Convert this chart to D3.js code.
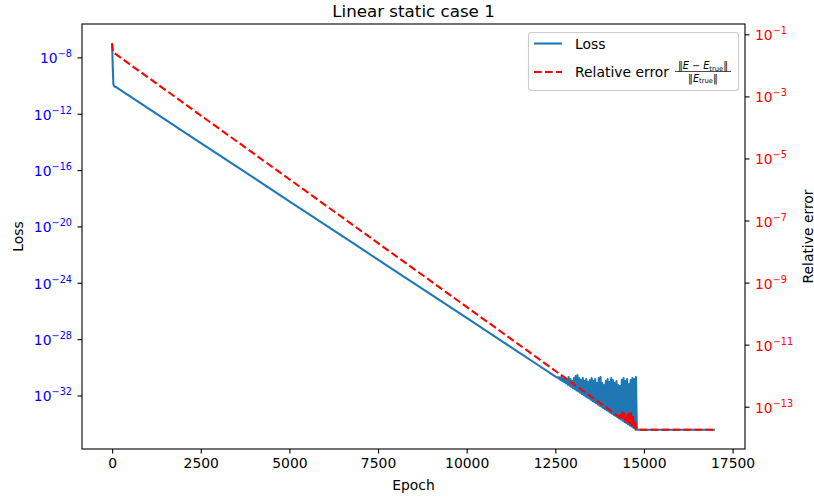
<!DOCTYPE html>
<html><head><meta charset="utf-8">
<script src="https://cdn.jsdelivr.net/npm/d3@7"></script>
<style>body{margin:0;background:#fff} svg{display:block} text{font-family:"DejaVu Sans",sans-serif}</style>
</head><body><svg id="c" width="814" height="498"></svg>
<script>
// ---- data (log10 values) ----
const lossEpochs = [0, 15, 35, 60, 100, 1000, 2000, 3000, 4000, 5000, 6000, 7000, 8000, 9000, 10000, 11000, 12000];
const lossLog10  = [-7.0, -8.5, -9.9, -10.05, -10.1, -11.59, -13.25, -14.91, -16.56, -18.22, -19.88, -21.53, -23.19, -24.85, -26.50, -28.16, -29.82];
// oscillating part: troughs at 12550 + 50k, peaks half way between
const noiseStartEpoch = 12550, noiseHalfStep = 25;
const noiseTroughLog10 = [-30.73,-30.81,-30.90,-30.98,-31.06,-31.14,-31.23,-31.31,-31.39,-31.48,-31.56,-31.64,-31.72,-31.81,-31.89,-31.97,-32.06,-32.14,-32.22,-32.30,-32.39,-32.47,-32.55,-32.64,-32.72,-32.80,-32.88,-32.97,-33.05,-33.13,-33.22,-33.30,-33.38,-33.46,-33.55,-33.63,-33.71,-33.80,-33.88,-33.96,-34.04,-34.13,-34.21,-34.29,-34.37,-34.43];
const noisePeakLog10 = [-30.70,-30.72,-30.68,-30.83,-30.76,-30.90,-30.69,-30.83,-30.97,-30.76,-30.62,-30.55,-30.76,-30.90,-30.76,-30.97,-30.83,-31.04,-30.90,-30.76,-30.97,-30.83,-31.12,-30.76,-30.69,-31.12,-31.26,-30.97,-30.83,-31.04,-30.76,-30.90,-31.12,-30.97,-31.26,-31.33,-30.90,-30.76,-30.97,-30.83,-31.19,-30.90,-30.76,-30.83,-30.69];
const lossTailEpochs = [17000];
const lossTailLog10  = [-34.43];

const errEpochs = [0, 20, 30, 1000, 2000, 3000, 4000, 5000, 6000, 7000, 8000, 9000, 10000, 11000, 12000, 13000, 14000, 14300, 14330, 14360, 14390, 14420, 14450, 14480, 14510, 14540, 14570, 14600, 14630, 14660, 14690, 14720, 14750, 14780, 17000];
const errLog10  = [-1.29, -1.55, -1.58, -2.378, -3.201, -4.024, -4.847, -5.670, -6.493, -7.316, -8.139, -8.962, -9.785, -10.608, -11.431, -12.254, -13.077, -13.33, -13.20, -13.38, -13.15, -13.43, -13.20, -13.48, -13.25, -13.52, -13.20, -13.57, -13.15, -13.62, -13.30, -13.68, -13.45, -13.74, -13.74];

const xTicks = [0, 2500, 5000, 7500, 10000, 12500, 15000, 17500];
const lossTickExp = [-8, -12, -16, -20, -24, -28, -32];
const errTickExp  = [-1, -3, -5, -7, -9, -11, -13];

// ---- build series ----
const loss = lossEpochs.map((e,i)=>({e, v: Math.pow(10, lossLog10[i])}));
noiseTroughLog10.forEach((t,k)=>{
  loss.push({e: noiseStartEpoch + 2*k*noiseHalfStep, v: Math.pow(10,t)});
  if (k < noisePeakLog10.length) loss.push({e: noiseStartEpoch + (2*k+1)*noiseHalfStep, v: Math.pow(10, noisePeakLog10[k])});
});
lossTailEpochs.forEach((e,i)=>loss.push({e, v: Math.pow(10, lossTailLog10[i])}));
const err = errEpochs.map((e,i)=>({e, v: Math.pow(10, errLog10[i])}));

// ---- layout ----
const L = 82, R = 745, T = 24, B = 449;
const FS = 13.9;
const svg = d3.select("#c");
const BLUE = "#1f77b4";

function padExtent(ext, f=0.05){ const d=(ext[1]-ext[0])*f; return [ext[0]-d, ext[1]+d]; }
const xd = padExtent(d3.extent(loss.concat(err), d=>d.e));
const ld = padExtent(d3.extent(loss, d=>Math.log10(d.v)));
const ed = padExtent(d3.extent(err, d=>Math.log10(d.v)));

const x = d3.scaleLinear().domain(xd).range([L, R]);
const yL = d3.scaleLog().domain([Math.pow(10,ld[0]), Math.pow(10,ld[1])]).range([B, T]);
const yR = d3.scaleLog().domain([Math.pow(10,ed[0]), Math.pow(10,ed[1])]).range([B, T]);

svg.append("defs").append("clipPath").attr("id","clip").append("rect")
  .attr("x",L).attr("y",T).attr("width",R-L).attr("height",B-T);

const g = svg.append("g").attr("clip-path","url(#clip)");
g.append("path").datum(loss)
  .attr("d", d3.line().x(d=>x(d.e)).y(d=>yL(d.v)))
  .attr("fill","none").attr("stroke",BLUE).attr("stroke-width",2.08).attr("stroke-linejoin","round");
g.append("path").datum(err)
  .attr("d", d3.line().x(d=>x(d.e)).y(d=>yR(d.v)))
  .attr("fill","none").attr("stroke","red").attr("stroke-width",2.08).attr("stroke-dasharray","7.7,3.3");

// frame
svg.append("rect").attr("x",L).attr("y",T).attr("width",R-L).attr("height",B-T)
  .attr("fill","none").attr("stroke","#000").attr("stroke-width",1.1);

// x axis
const xa = svg.append("g").attr("transform",`translate(0,${B})`)
  .call(d3.axisBottom(x).tickValues(xTicks).tickSize(4.5).tickPadding(5).tickFormat(d3.format("d")));
xa.select(".domain").remove();
xa.selectAll(".tick line").attr("stroke","#000").attr("stroke-width",1.1);
xa.selectAll(".tick text").attr("fill","#000").style("font-size",FS+"px").style("font-family","DejaVu Sans");

function supLabels(axisG, exps, color, anchor, dx){
  axisG.selectAll(".tick").each(function(d,i){
    const t = d3.select(this).append("text").attr("fill",color).attr("text-anchor",anchor)
      .attr("x",dx).attr("y",5.5).style("font-size",FS+"px");
    t.append("tspan").text("10");
    t.append("tspan").attr("dy",-6).style("font-size","9.7px").text("\u2212" + Math.abs(exps[i]));
  });
}
// left axis
const la = svg.append("g").attr("transform",`translate(${L},0)`)
  .call(d3.axisLeft(yL).tickValues(lossTickExp.map(e=>Math.pow(10,e))).tickSize(4.5).tickFormat(()=>""));
la.select(".domain").remove();
la.selectAll(".tick line").attr("stroke","#000").attr("stroke-width",1.1);
la.selectAll(".tick text").remove();
supLabels(la, lossTickExp, "blue", "end", -10);
// right axis
const ra = svg.append("g").attr("transform",`translate(${R},0)`)
  .call(d3.axisRight(yR).tickValues(errTickExp.map(e=>Math.pow(10,e))).tickSize(4.5).tickFormat(()=>""));
ra.select(".domain").remove();
ra.selectAll(".tick line").attr("stroke","#000").attr("stroke-width",1.1);
ra.selectAll(".tick text").remove();
supLabels(ra, errTickExp, "red", "start", 10);

// labels
svg.append("text").attr("x",(L+R)/2).attr("y",17).attr("text-anchor","middle").style("font-size","16.7px").text("Linear static case 1");
svg.append("text").attr("x",(L+R)/2).attr("y",490).attr("text-anchor","middle").style("font-size",FS+"px").text("Epoch");
svg.append("text").attr("transform",`translate(23,${(T+B)/2}) rotate(-90)`).attr("text-anchor","middle").style("font-size",FS+"px").text("Loss");
svg.append("text").attr("transform",`translate(812.5,${(T+B)/2}) rotate(-90)`).attr("text-anchor","middle").style("font-size",FS+"px").text("Relative error");

// legend
const lg = svg.append("g");
lg.append("rect").attr("x",528.5).attr("y",32.5).attr("width",210).attr("height",58).attr("rx",3)
  .attr("fill","#fff").attr("fill-opacity",0.8).attr("stroke","#cccccc").attr("stroke-width",1.1);
lg.append("line").attr("x1",534).attr("x2",562).attr("y1",43.5).attr("y2",43.5).attr("stroke",BLUE).attr("stroke-width",2.08);
lg.append("text").attr("x",575).attr("y",49).style("font-size",FS+"px").text("Loss");
lg.append("line").attr("x1",534).attr("x2",562).attr("y1",72).attr("y2",72).attr("stroke","red").attr("stroke-width",2.08).attr("stroke-dasharray","7.7,3.3");
lg.append("text").attr("x",575).attr("y",76.5).style("font-size",FS+"px").text("Relative error");
const fx = 703;
const num = lg.append("text").attr("x",fx).attr("y",69).attr("text-anchor","middle").style("font-size","9.7px");
num.append("tspan").text("\u2016");
num.append("tspan").style("font-style","italic").text("E");
num.append("tspan").text(" \u2212 ");
num.append("tspan").style("font-style","italic").text("E");
num.append("tspan").attr("dy",1.8).style("font-size","6.8px").text("true");
num.append("tspan").attr("dy",-1.8).text("\u2016");
lg.append("line").attr("x1",675).attr("x2",731).attr("y1",71.5).attr("y2",71.5).attr("stroke","#000").attr("stroke-width",0.7);
const den = lg.append("text").attr("x",fx).attr("y",81.5).attr("text-anchor","middle").style("font-size","9.7px");
den.append("tspan").text("\u2016");
den.append("tspan").style("font-style","italic").text("E");
den.append("tspan").attr("dy",1.8).style("font-size","6.8px").text("true");
den.append("tspan").attr("dy",-1.8).text("\u2016");
</script></body></html>
